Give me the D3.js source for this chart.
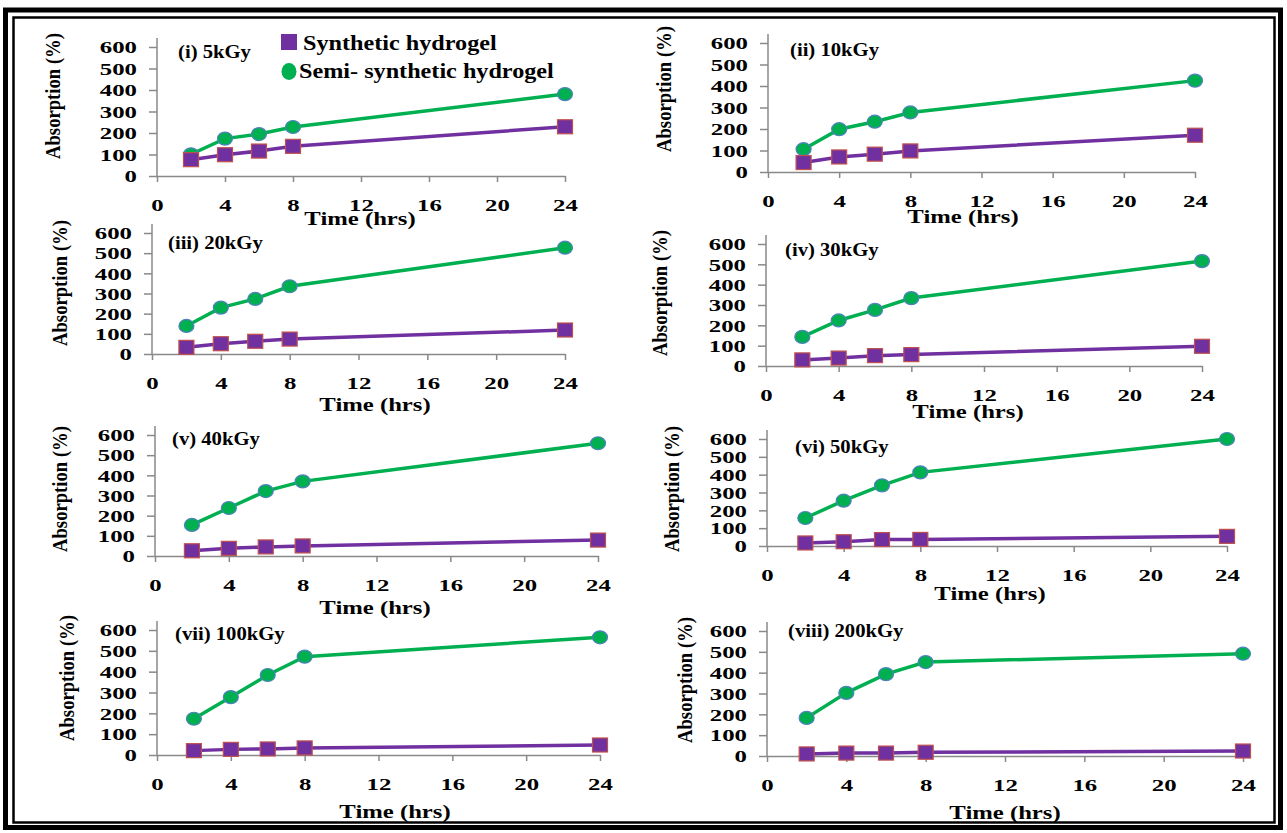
<!DOCTYPE html>
<html>
<head>
<meta charset="utf-8">
<script src="https://cdn.jsdelivr.net/npm/d3@7"></script>
<style>
  body { margin: 0; background: #fff; }
  svg text { font-family: "Liberation Serif", "Times New Roman", Times, serif !important; font-weight: bold; fill: #000; }
</style>
</head>
<body>
<div id="chart"></div>
<script>
// DATA
var hours = [2, 4, 6, 8, 24];
var xTicks = [0, 4, 8, 12, 16, 20, 24];
var yTicks = [0, 100, 200, 300, 400, 500, 600];
var panelTitles = ['(i) 5kGy', '(ii) 10kGy', '(iii) 20kGy', '(iv) 30kGy',
                   '(v) 40kGy', '(vi) 50kGy', '(vii) 100kGy', '(viii) 200kGy'];
var seriesNames = ['Synthetic hydrogel', 'Semi- synthetic hydrogel'];

var synthetic = [
  [76, 99, 116, 138, 229],
  [44, 70, 83, 98, 171],
  [33, 51, 63, 74, 119],
  [30, 39, 51, 56, 97],
  [26, 38, 45, 50, 79],
  [17, 24, 36, 37, 54],
  [21, 27, 29, 34, 48],
  [10, 14, 14, 18, 24]
];
var semiSynthetic = [
  [101, 174, 195, 228, 381],
  [106, 199, 234, 277, 425],
  [139, 230, 273, 336, 527],
  [143, 224, 276, 334, 516],
  [154, 238, 322, 370, 559],
  [157, 254, 340, 413, 600],
  [174, 278, 384, 472, 565],
  [183, 303, 393, 451, 491]
];

// LAYOUT (pixel boxes for each panel)
var layout = [
  {x0: 157, x1: 565,  y0: 176, y1: 47,  title: [178, 58],  ylab: [53, 96],   xlab: [360, 225]},
  {x0: 768, x1: 1195, y0: 172, y1: 43,  title: [790, 56],  ylab: [664, 89],  xlab: [963, 223]},
  {x0: 152, x1: 565,  y0: 354, y1: 233, title: [168, 249], ylab: [60, 283],  xlab: [375, 411]},
  {x0: 766, x1: 1202, y0: 366, y1: 244, title: [785, 256], ylab: [660, 293], xlab: [968, 418]},
  {x0: 155, x1: 598,  y0: 556, y1: 435, title: [172, 445], ylab: [60, 489],  xlab: [375, 614]},
  {x0: 767, x1: 1227, y0: 546, y1: 439, title: [795, 453], ylab: [672, 489], xlab: [990, 600]},
  {x0: 157, x1: 600,  y0: 755, y1: 630, title: [175, 640], ylab: [67, 678],  xlab: [395, 818]},
  {x0: 767, x1: 1243, y0: 756, y1: 631, title: [788, 637], ylab: [685, 680], xlab: [1005, 819]}
];

var width = 1287,
    height = 833;

var purple = '#7030a0',
    purpleEdge = '#c0504d',
    green = '#00b050',
    greenEdge = '#4f81bd',
    axisGrey = '#898989';

// the lettering in the source picture is stretched sideways
var tickStretch = 1.55,
    titleStretch = 1.3;

var svg = d3.select('#chart').append('svg')
    .attr('width', width)
    .attr('height', height);

svg.append('rect').attr('width', width).attr('height', height).attr('fill', '#fff');

// double frame
svg.append('rect')
    .attr('x', 5.5).attr('y', 10).attr('width', 1275).attr('height', 817.5)
    .attr('fill', 'none').attr('stroke', '#000').attr('stroke-width', 5);
svg.append('rect')
    .attr('x', 13.5).attr('y', 17.5).attr('width', 1261).attr('height', 805)
    .attr('fill', 'none').attr('stroke', '#000').attr('stroke-width', 2.5);

//DRAW PANELS
layout.forEach(function(p, i) {
  var x = d3.scaleLinear().domain([0, 24]).range([p.x0, p.x1]);
  var y = d3.scaleLinear().domain([0, 600]).range([p.y0, p.y1]);

  var g = svg.append('g').attr('class', 'panel');

  // y axis
  var yAxis = g.append('g')
      .attr('transform', 'translate(' + p.x0 + ',0)')
      .call(d3.axisLeft(y).tickValues(yTicks).tickSize(8).tickSizeOuter(0));
  yAxis.attr('font-family', null).attr('font-size', null);
  yAxis.select('.domain').remove();
  yAxis.selectAll('line').attr('stroke', axisGrey).attr('stroke-width', 1.5);
  yAxis.selectAll('text')
      .attr('x', -20 / tickStretch)
      .attr('dy', '0.36em')
      .attr('transform', 'scale(' + tickStretch + ',1)')
      .style('font-size', '16px')
      .attr('fill', '#000');
  g.append('line')
      .attr('x1', p.x0).attr('x2', p.x0)
      .attr('y1', y(0)).attr('y2', y(600) - 9)
      .attr('stroke', axisGrey).attr('stroke-width', 1.5);

  // x axis
  var xAxis = g.append('g')
      .attr('transform', 'translate(0,' + p.y0 + ')')
      .call(d3.axisBottom(x).tickValues(xTicks).tickSize(6).tickSizeOuter(0));
  xAxis.attr('font-family', null).attr('font-size', null);
  xAxis.select('.domain').attr('stroke', axisGrey).attr('stroke-width', 1.5);
  xAxis.selectAll('line').attr('stroke', axisGrey).attr('stroke-width', 1.5);
  xAxis.selectAll('text')
      .attr('y', 24)
      .attr('transform', 'scale(' + tickStretch + ',1)')
      .style('font-size', '16px')
      .attr('fill', '#000');

  // axis titles
  g.append('text')
      .attr('transform', 'translate(' + p.xlab[0] + ',' + p.xlab[1] + ') scale(' + titleStretch + ',1)')
      .attr('text-anchor', 'middle')
      .style('font-size', '19px')
      .text('Time (hrs)');

  g.append('text')
      .attr('transform', 'translate(' + p.ylab[0] + ',' + p.ylab[1] + ') scale(1.1,1) rotate(-90)')
      .attr('text-anchor', 'middle')
      .attr('dominant-baseline', 'central')
      .attr('textLength', 126)
      .attr('lengthAdjust', 'spacingAndGlyphs')
      .style('font-size', '19px')
      .text('Absorption (%)');

  g.append('text')
      .attr('transform', 'translate(' + p.title[0] + ',' + p.title[1] + ') scale(1.15,1)')
      .style('font-size', '18px')
      .style('white-space', 'pre')
      .text(panelTitles[i]);

  // lines
  var line = d3.line()
      .x(function(d) { return x(d.t); })
      .y(function(d) { return y(d.v); });

  var synData = hours.map(function(t, k) { return {t: t, v: synthetic[i][k]}; });
  var semiData = hours.map(function(t, k) { return {t: t, v: semiSynthetic[i][k]}; });

  g.append('path').datum(semiData)
      .attr('d', line)
      .attr('fill', 'none').attr('stroke', green).attr('stroke-width', 3.5);
  g.append('path').datum(synData)
      .attr('d', line)
      .attr('fill', 'none').attr('stroke', purple).attr('stroke-width', 3.5);

  g.selectAll('.semi')
      .data(semiData)
    .enter().append('ellipse')
      .attr('class', 'semi')
      .attr('cx', function(d) { return x(d.t); })
      .attr('cy', function(d) { return y(d.v); })
      .attr('rx', 7.5).attr('ry', 6.5)
      .attr('fill', green).attr('stroke', greenEdge).attr('stroke-width', 1.2);

  g.selectAll('.syn')
      .data(synData)
    .enter().append('rect')
      .attr('class', 'syn')
      .attr('x', function(d) { return x(d.t) - 7.5; })
      .attr('y', function(d) { return y(d.v) - 7; })
      .attr('width', 15).attr('height', 14)
      .attr('fill', purple).attr('stroke', purpleEdge).attr('stroke-width', 1.2);
});

//LEGEND
var legend = svg.append('g');
legend.append('rect')
    .attr('x', 281).attr('y', 34).attr('width', 16).attr('height', 16)
    .attr('fill', purple);
legend.append('text')
    .attr('transform', 'translate(303,50) scale(1.1,1)')
    .style('font-size', '22px')
    .text(seriesNames[0]);
legend.append('ellipse')
    .attr('cx', 289).attr('cy', 71.5).attr('rx', 7.5).attr('ry', 8.5)
    .attr('fill', green);
legend.append('text')
    .attr('transform', 'translate(299,78) scale(1.1,1)')
    .style('font-size', '22px')
    .text(seriesNames[1]);
</script>
</body>
</html>
